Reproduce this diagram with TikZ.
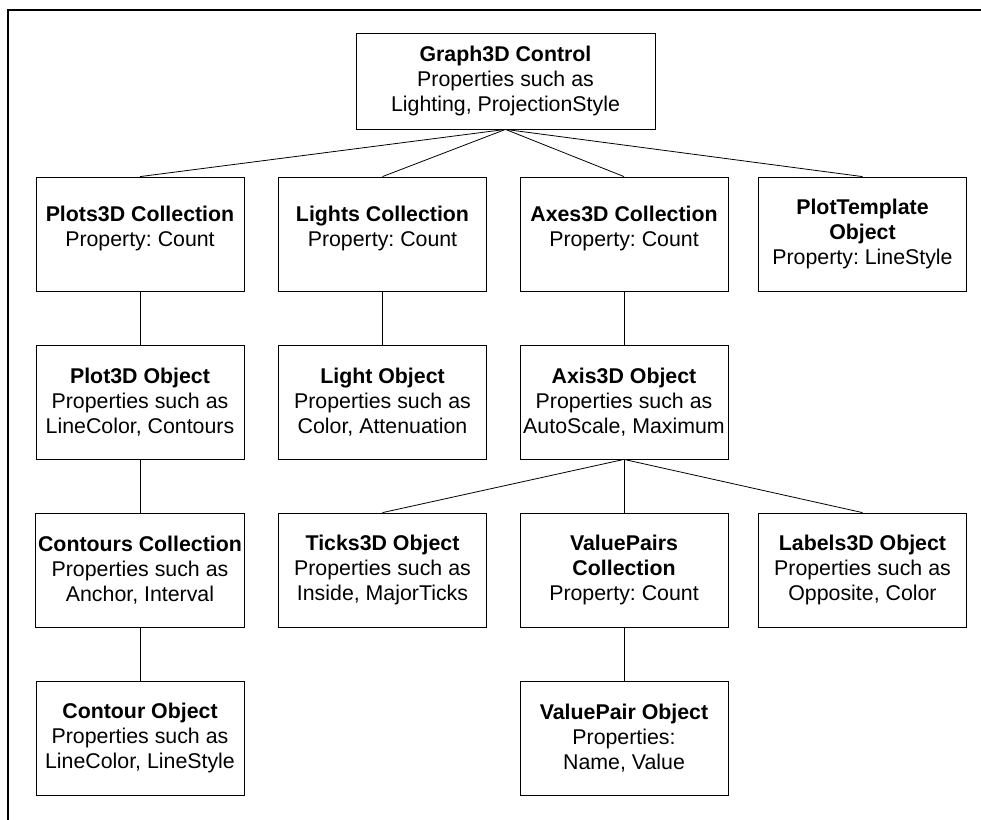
\documentclass[tikz,border=0pt]{standalone}
\usepackage{fontspec}
\setmainfont{Liberation Sans}
\usetikzlibrary{positioning}

\begin{document}
\frenchspacing
\begin{tikzpicture}[x = 0.75pt, y = -0.75pt]

        \def\boxW{156pt}
        \def\boxH{85.5pt}

        \tikzset{
            objbox/.style = {draw, line width = 0.6pt, minimum width = \boxW, minimum height = \boxH,
                             align = center, inner sep = 2pt, font = \fontsize{16}{18.75}\selectfont},
            twoline/.style = {text depth = 12pt},
            link/.style   = {line width = 0.6pt}
        }

        \useasboundingbox (0, 0) rectangle (981, 820);

        % frame (top and left edges)
        \draw[line width = 1.5pt] (8, 820) to (8, 10) to (981, 10);

        % root
        \node[objbox, minimum width = 224.25pt, minimum height = 72pt] (graph) at (505.5, 81)
            {\textbf{Graph3D Control}\\Properties such as\\Lighting, ProjectionStyle};

        % first level
        \node[objbox, twoline] (plots) at (140, 234)   {\textbf{Plots3D Collection}\\Property: Count};
        \node[objbox, twoline] (lights) at (382.5, 234) {\textbf{Lights Collection}\\Property: Count};
        \node[objbox, twoline] (axes) at (624, 234)    {\textbf{Axes3D Collection}\\Property: Count};
        \node[objbox] (tmpl) at (862.5, 234)  {\textbf{PlotTemplate}\\\textbf{Object}\\Property: LineStyle};

        % second level
        \node[objbox] (plot) at (140, 402)    {\textbf{Plot3D Object}\\Properties such as\\LineColor, Contours};
        \node[objbox] (light) at (382.5, 402) {\textbf{Light Object}\\Properties such as\\Color, Attenuation};
        \node[objbox] (axis) at (624, 402)    {\textbf{Axis3D Object}\\Properties such as\\AutoScale, Maximum};

        % third level
        \node[objbox] (contours) at (140, 570) {\textbf{Contours Collection}\\Properties such as\\Anchor, Interval};
        \node[objbox] (ticks) at (382.5, 570)  {\textbf{Ticks3D Object}\\Properties such as\\Inside, MajorTicks};
        \node[objbox] (pairs) at (624, 570)    {\textbf{ValuePairs}\\\textbf{Collection}\\Property: Count};
        \node[objbox] (labels) at (862.5, 570) {\textbf{Labels3D Object}\\Properties such as\\Opposite, Color};

        % fourth level
        \node[objbox] (contour) at (140, 738) {\textbf{Contour Object}\\Properties such as\\LineColor, LineStyle};
        \node[objbox] (pair) at (624, 738)    {\textbf{ValuePair Object}\\Properties:\\Name, Value};

        % connectors
        \foreach \child in {plots, lights, axes, tmpl} {
            \draw[link] (graph.south) to (\child.north);
        }
        \foreach \child in {ticks, pairs, labels} {
            \draw[link] (axis.south) to (\child.north);
        }
        \draw[link] (plots) to (plot);
        \draw[link] (plot) to (contours);
        \draw[link] (contours) to (contour);
        \draw[link] (lights) to (light);
        \draw[link] (axes) to (axis);
        \draw[link] (pairs) to (pair);

\end{tikzpicture}
\end{document}
